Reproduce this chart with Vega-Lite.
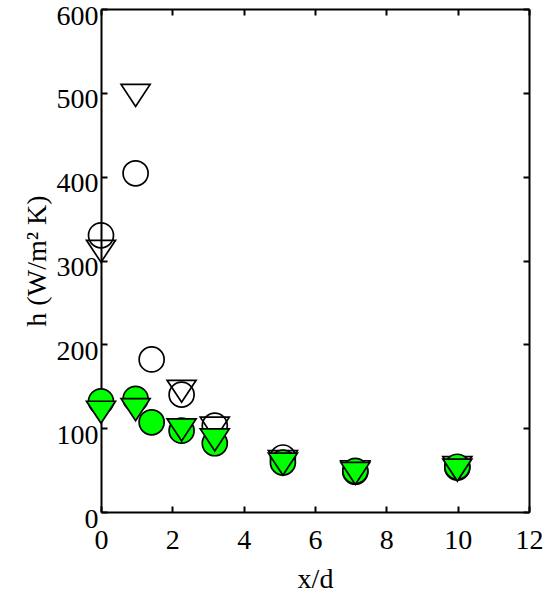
{
  "$schema": "https://vega.github.io/schema/vega-lite/v6.json",
  "width": 428,
  "height": 503,
  "autosize": {"type": "none"},
  "padding": {"left": 101, "top": 9, "right": 25, "bottom": 86},
  "background": "white",
  "config": {
    "view": {"stroke": null},
    "font": "Liberation Serif",
    "axis": {
      "labelFont": "Liberation Serif",
      "titleFont": "Liberation Serif",
      "labelFontSize": 28,
      "titleFontSize": 28,
      "titleFontWeight": "normal",
      "labelColor": "black",
      "titleColor": "black",
      "domainColor": "black",
      "domainWidth": 2,
      "tickColor": "black",
      "tickWidth": 2,
      "tickSize": -6,
      "labelFlush": false,
      "grid": false
    }
  },
  "data": {
    "values": [
      {"x": 0, "h": 311, "s": "A"},
      {"x": 0.97, "h": 497, "s": "A"},
      {"x": 2.26, "h": 144, "s": "A"},
      {"x": 3.19, "h": 100, "s": "A"},
      {"x": 5.1, "h": 60, "s": "A"},
      {"x": 7.13, "h": 48, "s": "A"},
      {"x": 9.99, "h": 53, "s": "A"},
      {"x": 0, "h": 330, "s": "B"},
      {"x": 0.97, "h": 404, "s": "B"},
      {"x": 1.42, "h": 182, "s": "B"},
      {"x": 2.26, "h": 140, "s": "B"},
      {"x": 3.19, "h": 103, "s": "B"},
      {"x": 5.1, "h": 65, "s": "B"},
      {"x": 7.13, "h": 48, "s": "B"},
      {"x": 9.99, "h": 53, "s": "B"},
      {"x": 0, "h": 132, "s": "C"},
      {"x": 0.97, "h": 135, "s": "C"},
      {"x": 1.42, "h": 107, "s": "C"},
      {"x": 2.26, "h": 97, "s": "C"},
      {"x": 3.19, "h": 82, "s": "C"},
      {"x": 5.1, "h": 59, "s": "C"},
      {"x": 7.13, "h": 49, "s": "C"},
      {"x": 9.99, "h": 54, "s": "C"},
      {"x": 0, "h": 119, "s": "D"},
      {"x": 0.97, "h": 122, "s": "D"},
      {"x": 2.26, "h": 98, "s": "D"},
      {"x": 3.19, "h": 86, "s": "D"},
      {"x": 5.1, "h": 57, "s": "D"},
      {"x": 7.13, "h": 46, "s": "D"},
      {"x": 9.99, "h": 50, "s": "D"}
    ]
  },
  "layer": [
    {
      "mark": {"type": "point", "filled": true, "size": 625, "stroke": "black", "strokeWidth": 1.7},
      "encoding": {
        "x": {
          "field": "x", "type": "quantitative",
          "scale": {"domain": [0, 12], "nice": false, "zero": false},
          "axis": {"values": [0, 2, 4, 6, 8, 10, 12], "title": "x/d", "labelPadding": 20, "titlePadding": 11}
        },
        "y": {
          "field": "h", "type": "quantitative",
          "scale": {"domain": [0, 600], "nice": false},
          "axis": {"values": [0, 100, 200, 300, 400, 500, 600], "title": "h (W/m² K)", "labelPadding": 9, "labelOffset": 7, "titlePadding": 5}
        },
        "shape": {
          "field": "s", "type": "nominal", "legend": null,
          "scale": {"domain": ["A", "B", "C", "D"], "range": ["M-1.16,-0.88L1.16,-0.88L0,0.88Z", "circle", "circle", "M-1.16,-0.88L1.16,-0.88L0,0.88Z"]}
        },
        "fill": {
          "field": "s", "type": "nominal", "legend": null,
          "scale": {"domain": ["A", "B", "C", "D"], "range": ["transparent", "transparent", "#00ff00", "#00ff00"]}
        },
        "opacity": {"value": 1}
      }
    },
    {
      "mark": {"type": "point", "opacity": 0},
      "encoding": {
        "x": {
          "field": "x", "type": "quantitative",
          "axis": {"orient": "top", "values": [0, 2, 4, 6, 8, 10, 12], "labels": false, "title": null}
        },
        "y": {
          "field": "h", "type": "quantitative",
          "axis": {"orient": "right", "values": [0, 100, 200, 300, 400, 500, 600], "labels": false, "title": null}
        }
      }
    }
  ],
  "resolve": {"axis": {"x": "independent", "y": "independent"}}
}
